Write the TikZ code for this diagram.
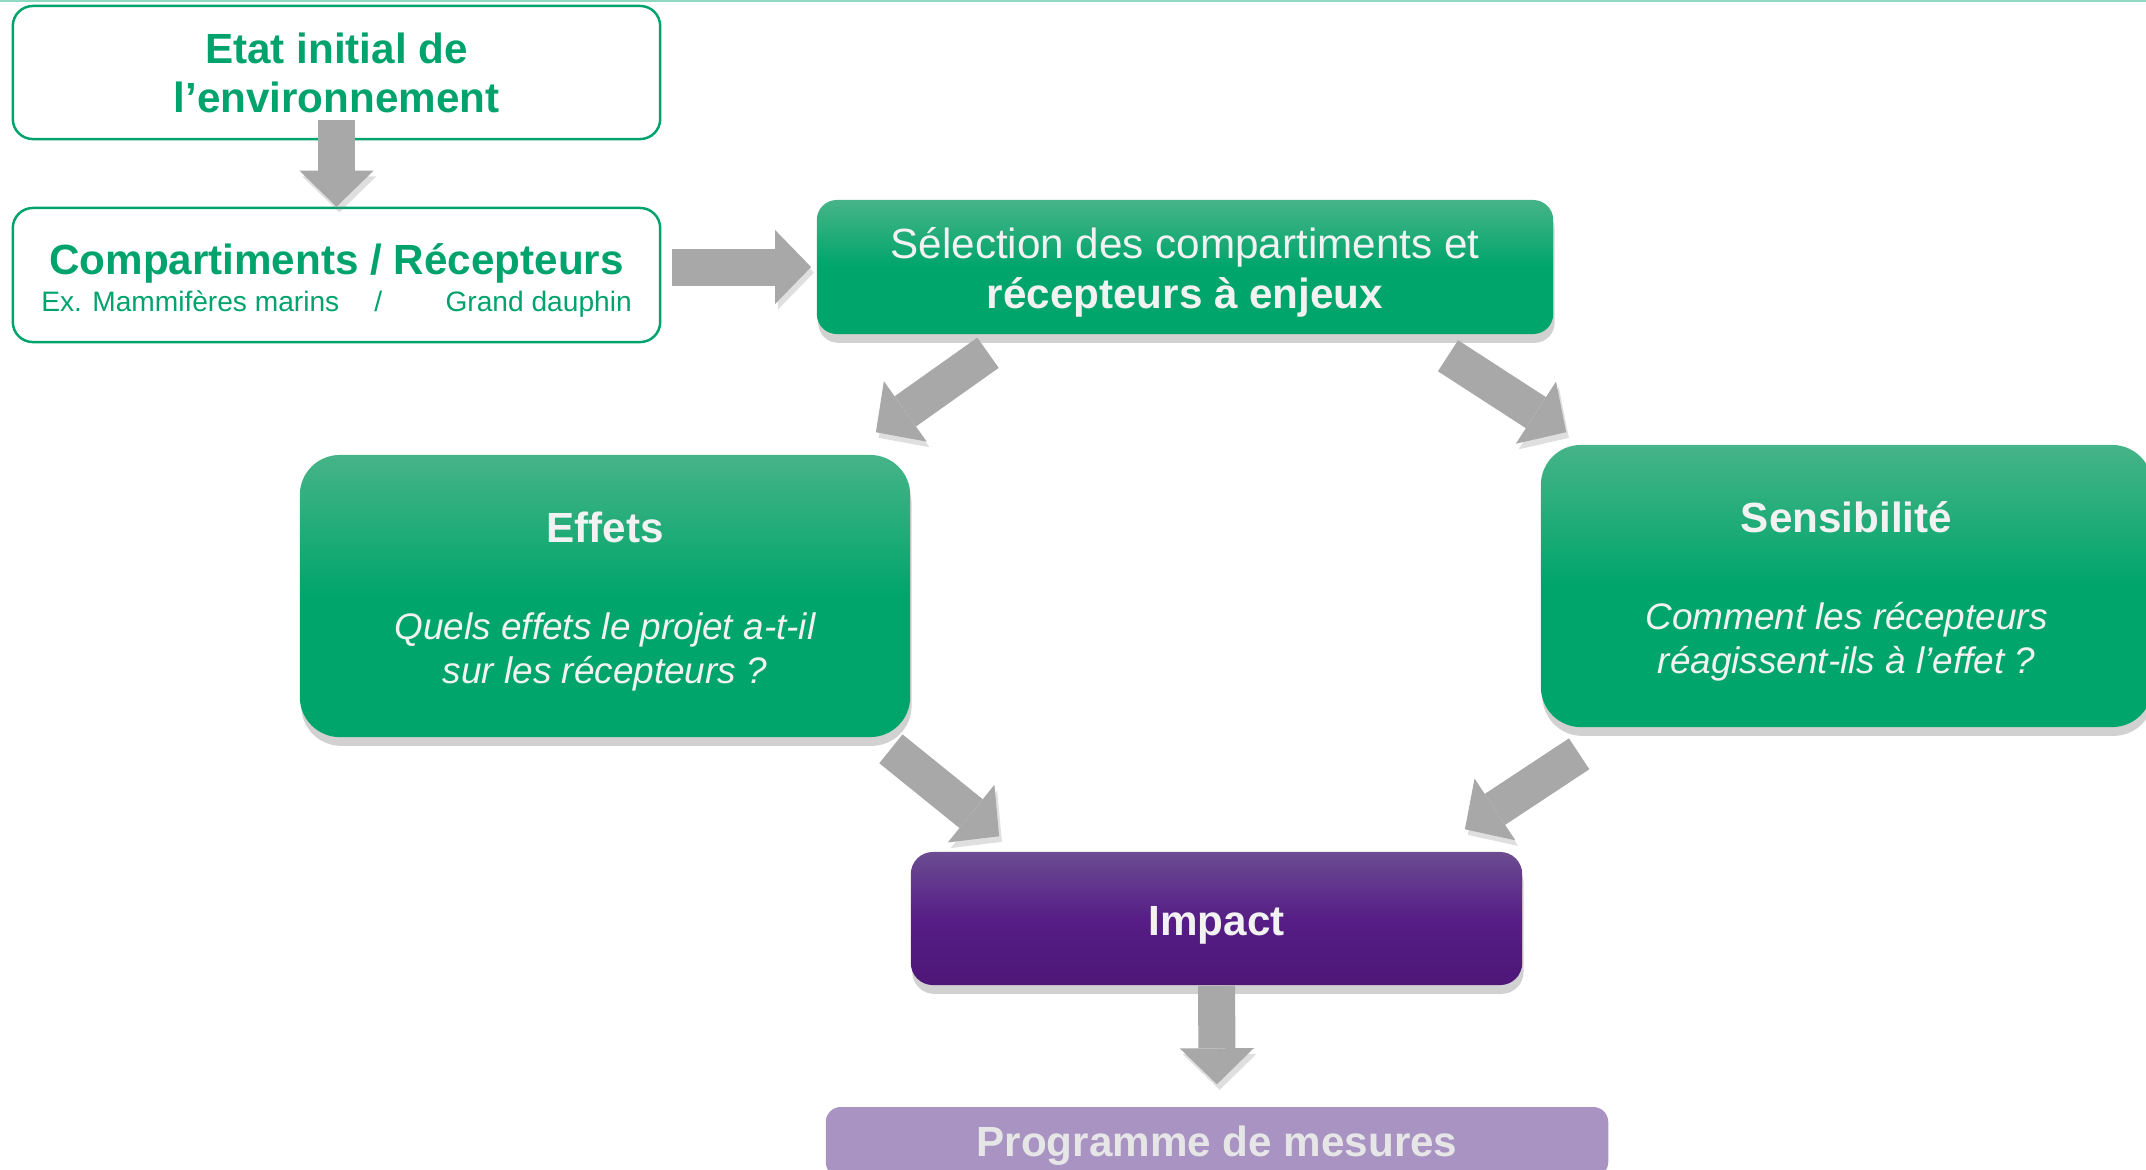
\documentclass[tikz,border=0pt]{standalone}
\usepackage{fontspec}
\setmainfont{Liberation Sans}
\usepackage{tikz}
\usetikzlibrary{calc}
\usetikzlibrary{arrows.meta}
\usetikzlibrary{shadows}
\usepackage{xcolor}
\definecolor{grn}{HTML}{00A36C}
\definecolor{grntop}{HTML}{46B488}
\definecolor{grnbot}{HTML}{00A56C}
\definecolor{purtop}{HTML}{6C4C92}
\definecolor{purmid}{HTML}{561E86}
\definecolor{purbot}{HTML}{4D1677}
\definecolor{lilac}{HTML}{A993C3}
\definecolor{arrowgray}{HTML}{A8A8A8}
\definecolor{paletext}{HTML}{F2F2F2}
\definecolor{rulecol}{HTML}{8FD9C1}
\newcommand{\lowerstrut}{\rule{0pt}{12pt}}

\begin{document}
\begin{tikzpicture}[x=0.01cm, y=-0.01cm]
    \tikzstyle{outline}=[draw=grn, line width=.7pt, fill=white, rounded corners=0.2cm, text=grn, align=center, inner sep=0pt]
    \tikzstyle{greenbox}=[rounded corners=0.2cm, top color=grntop, bottom color=grnbot, middle color=grnbot, text=paletext, align=center, inner sep=0pt, drop shadow={shadow xshift=0.4pt, shadow yshift=-2.5pt, opacity=0.3, fill=black!60}]
    \tikzstyle{purplebox}=[rounded corners=0.22cm, top color=purtop, bottom color=purbot, middle color=purmid, text=paletext, align=center, inner sep=0pt, drop shadow={shadow xshift=0.4pt, shadow yshift=-2.5pt, opacity=0.3, fill=black!60}]
    \tikzstyle{lilacbox}=[rounded corners=0.15cm, fill=lilac, text=paletext!95!black, align=center, inner sep=0pt]
    \tikzstyle{blockarrow}=[draw=arrowgray, line width=0.37cm, -{Triangle[width=0.74cm,length=0.36cm,line width=0pt]}, preaction={draw=black!50, opacity=0.25, transform canvas={shift={(0.8pt,-1.6pt)}}}]
    \useasboundingbox (0,0) rectangle (2146,1169);
    \draw[rulecol, line width=0.03cm] (0,0) -- (2146,0);
    % boxes
    \node[outline, minimum width=6.47cm, minimum height=1.33cm, font=\fontsize{12}{13.9}\selectfont\bfseries] (etat) at (336.5,72.5) {Etat initial de\\l’environnement};
    \node[outline, minimum width=6.47cm, minimum height=1.34cm, font=\fontsize{8}{10}\selectfont] (comp) at (336.5,275) {{\lowerstrut\fontsize{12}{14}\selectfont\bfseries Compartiments / Récepteurs}\\[0.5pt]Ex. Mammifères marins\hspace{10pt}/\hspace{18pt}Grand dauphin};
    \node[greenbox, minimum width=7.36cm, minimum height=1.34cm, font=\fontsize{12}{14.2}\selectfont] (sel) at (1185,267) {\lowerstrut Sélection des compartiments et\\\textbf{récepteurs à enjeux}};
    \node[greenbox, rounded corners=0.4cm, minimum width=6.1cm, minimum height=2.82cm, font=\fontsize{10.5}{12.5}\selectfont\itshape] (eff) at (605,596) {{\lowerstrut\fontsize{12}{14}\selectfont\bfseries\upshape Effets}\\[15pt]Quels effets le projet a-t-il\\sur les récepteurs ?};
    \node[greenbox, rounded corners=0.4cm, minimum width=6.11cm, minimum height=2.82cm, font=\fontsize{10.5}{12.5}\selectfont\itshape] (sens) at (1846.5,586) {{\lowerstrut\fontsize{12}{14}\selectfont\bfseries\upshape Sensibilité}\\[15pt]Comment les récepteurs\\réagissent-ils à l’effet ?};
    \node[purplebox, minimum width=6.11cm, minimum height=1.33cm, font=\fontsize{12}{14}\selectfont\bfseries] (imp) at (1216.5,918.5) {\lowerstrut Impact};
    \node[lilacbox, minimum width=7.82cm, minimum height=0.7cm, font=\fontsize{12}{14}\selectfont\bfseries] (prog) at (1217,1142) {\rule{0pt}{10.5pt}Programme de mesures};
    % arrows
    \draw[blockarrow, shorten <=-0.2cm] (etat) -- (comp);
    \draw[blockarrow, shorten <=0.11cm, shorten >=0.05cm] (comp.east |- sel.west) -- (sel.west);
    \draw[blockarrow] ($(sel.south)+(-197,18)$) -- ($(eff.north east)+(-35,-22)$);
    \draw[blockarrow] ($(sel.south)+(263,21)$) -- ($(sens.north west)+(26,-12)$);
    \draw[blockarrow] ($(eff.south east)+(-20,11)$) -- ($(imp.north west)+(89,-15)$);
    \draw[blockarrow] ($(sens.south west)+(39,26)$) -- ($(imp.north east)+(-58,-22)$);
    \draw[blockarrow, shorten >=0.22cm] (imp) -- (prog);
\end{tikzpicture}
\end{document}
